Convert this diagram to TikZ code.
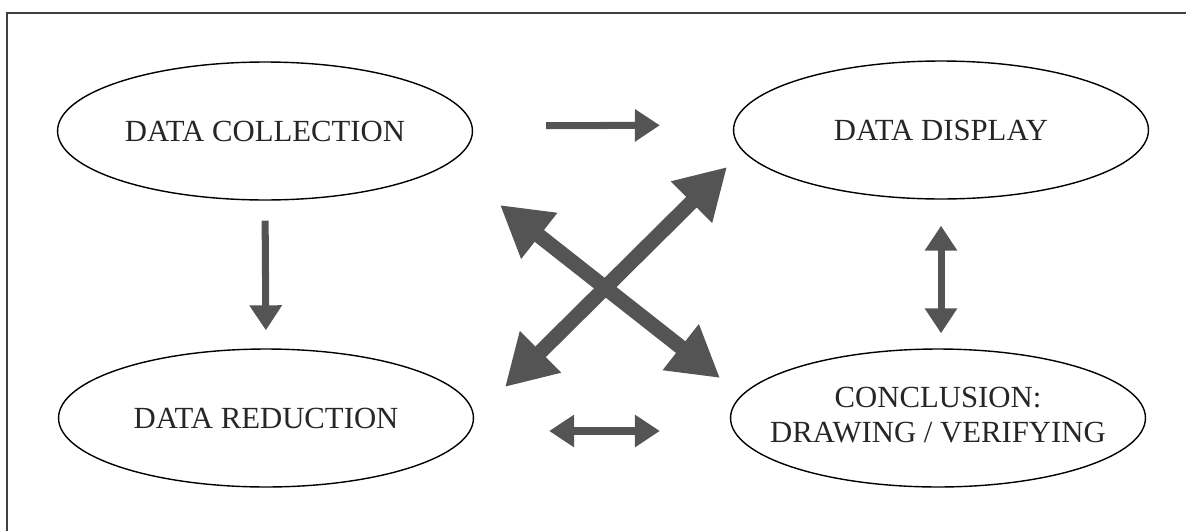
\documentclass[tikz,border=0pt]{standalone}
\usepackage{fontspec}
\setmainfont{Liberation Serif}
\usetikzlibrary{shapes,arrows.meta,positioning}
\definecolor{arrowgray}{HTML}{545454}

\begin{document}
\begin{tikzpicture}[x=0.02cm, y=-0.02cm]
\tikzstyle{stage} = [ellipse, draw, line width=0.8pt, inner sep=0pt, align=center, font=\fontsize{17.5}{20}\selectfont, text=black!85, minimum width=8.3cm, minimum height=2.76cm]
\tikzstyle{arrow} = [arrowgray, line width=4pt, -{Triangle[length=0.5cm, width=0.62cm]}]
\tikzstyle{twoway} = [arrowgray, line width=4pt, {Triangle[length=0.5cm, width=0.62cm]}-{Triangle[length=0.5cm, width=0.62cm]}]
\tikzstyle{bigarrow} = [arrowgray, line width=8.5pt, {Triangle[length=1cm, width=1.1cm]}-{Triangle[length=1cm, width=1.1cm]}]

\useasboundingbox (0,0) rectangle (1186,531);
\draw [line width=0.6pt, black!75] (7,531) -- (7,13) -- (1186,13);

\node [stage] (coll) at (265,131) {DATA COLLECTION};
\node [stage] (disp) at (941,130) {DATA DISPLAY};
\node [stage] (red) at (266,418) {DATA REDUCTION};
\node [stage] (concl) at (938,418) {\makebox[0pt]{\begin{tabular}{@{}c@{}}CONCLUSION:\\DRAWING / VERIFYING\end{tabular}}};

% ends of the crossed arrows
\coordinate (xtl) at (500,205);
\coordinate (xbr) at (720,378);
\coordinate (xtr) at (727,167);
\coordinate (xbl) at (505,387);

\draw [arrow, shorten <=1.46cm, shorten >=1.46cm] ([yshift=0.1cm]coll.east) -- ([yshift=0.1cm]disp.west);
\draw [arrow, shorten <=0.4cm, shorten >=0.36cm] (coll.south) -- (red.north);
\draw [twoway, shorten <=0.52cm, shorten >=0.3cm] (disp.south) -- (disp.south |- concl.north);
\draw [twoway, shorten <=1.5cm, shorten >=1.4cm] ([yshift=-0.26cm]red.east) -- ([yshift=-0.26cm]concl.west);
\draw [bigarrow] (xtl) -- (xbr);
\draw [bigarrow] (xbl) -- (xtr);
\end{tikzpicture}
\end{document}
